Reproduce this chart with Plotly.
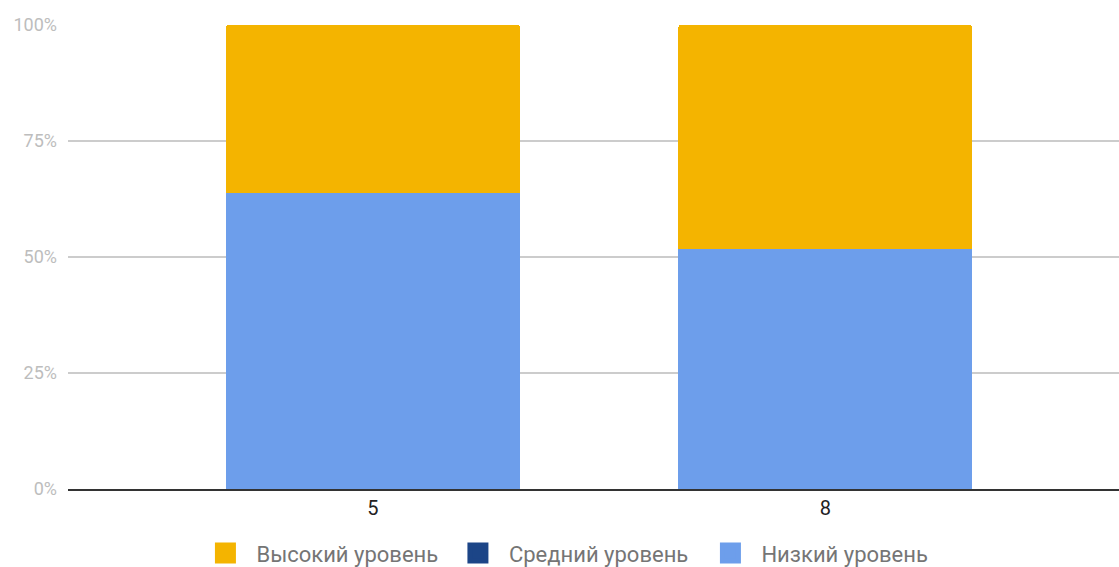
import plotly.graph_objects as go

# Categories (grade) and share of students per level, in percent
grades = ["5", "8"]
low_level = [63.7, 51.8]
mid_level = [0, 0]
high_level = [36.3, 48.2]

y_ticks = [0, 25, 50, 75, 100]
y_tick_labels = ["0%", "25%", "50%", "75%", "100%"]

series = [
    ("Низкий уровень", low_level, "#6d9eeb"),
    ("Средний уровень", mid_level, "#1c4587"),
    ("Высокий уровень", high_level, "#f4b400"),
]

fig = go.Figure()
for name, values, color in series:
    fig.add_trace(go.Bar(
        x=grades, y=values, name=name,
        marker=dict(color=color, line=dict(width=0)),
        width=0.65, showlegend=False,
    ))

# Larger legend swatches drawn through marker-only entries
for name, _, color in reversed(series):
    fig.add_trace(go.Scatter(
        x=[None], y=[None], mode="markers", name=name,
        marker=dict(symbol="square", size=16, color=color,
                    line=dict(color=color, width=5)),
    ))

fig.update_layout(
    barmode="stack",
    barcornerradius=3,
    width=1119, height=567,
    margin=dict(l=68, r=0, t=25, b=78, autoexpand=False),
    paper_bgcolor="white", plot_bgcolor="white",
    font=dict(family="Roboto, Arial, sans-serif"),
    xaxis=dict(
        type="category", range=[-0.674, 1.649],
        showgrid=False, showline=True, linecolor="#333333", linewidth=1.5,
        tickfont=dict(size=20, color="#222222"), ticks="",
    ),
    yaxis=dict(
        range=[0, 100], tickmode="array", tickvals=y_ticks, ticktext=y_tick_labels,
        showgrid=True, gridcolor="#cccccc", gridwidth=1.5,
        zeroline=False, showline=False,
        tickfont=dict(size=18, color="#bdbdbd"), ticklabelstandoff=10,
    ),
    legend=dict(
        orientation="h", x=0.4809, xanchor="center", y=-0.093, yanchor="top",
        font=dict(size=22, color="#757575"), itemwidth=52,
        entrywidth=185.5, traceorder="normal",
    ),
)

fig.write_html("out.html")
